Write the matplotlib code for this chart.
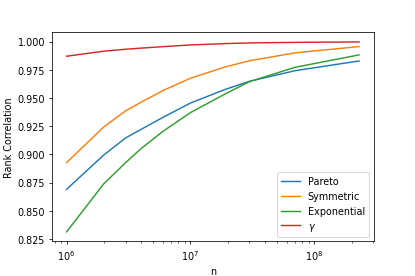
import matplotlib
matplotlib.use("Agg")
import matplotlib.pyplot as plt

n = [1e6, 2e6, 3e6, 4e6, 6e6, 1e7, 1.9e7, 3e7, 7e7, 2.3e8]
pareto = [0.869, 0.8995, 0.9146, 0.9222, 0.9328, 0.9455, 0.9575, 0.9648, 0.9742, 0.9828]
symmetric = [0.8927, 0.9244, 0.9386, 0.9463, 0.9566, 0.9675, 0.9775, 0.9830, 0.9900, 0.9956]
exponential = [0.8313, 0.874, 0.8927, 0.9052, 0.9204, 0.937, 0.9535, 0.9645, 0.9772, 0.9882]
gamma = [0.987, 0.9915, 0.9932, 0.9942, 0.9955, 0.9970, 0.9982, 0.9988, 0.9993, 0.9997]

DPI = 69.2
fig, ax = plt.subplots(figsize=(6, 4), dpi=DPI)
fig.subplots_adjust(bottom=0.125)
ax.plot(n, pareto, label="Pareto")
ax.plot(n, symmetric, label="Symmetric")
ax.plot(n, exponential, label="Exponential")
ax.plot(n, gamma, label=r"$\gamma$")
ax.set_xscale("log")
ax.set_xlabel("n")
ax.set_ylabel("Rank Correlation")
ax.legend(loc="lower right")
fig.savefig("out.png", dpi=DPI)
